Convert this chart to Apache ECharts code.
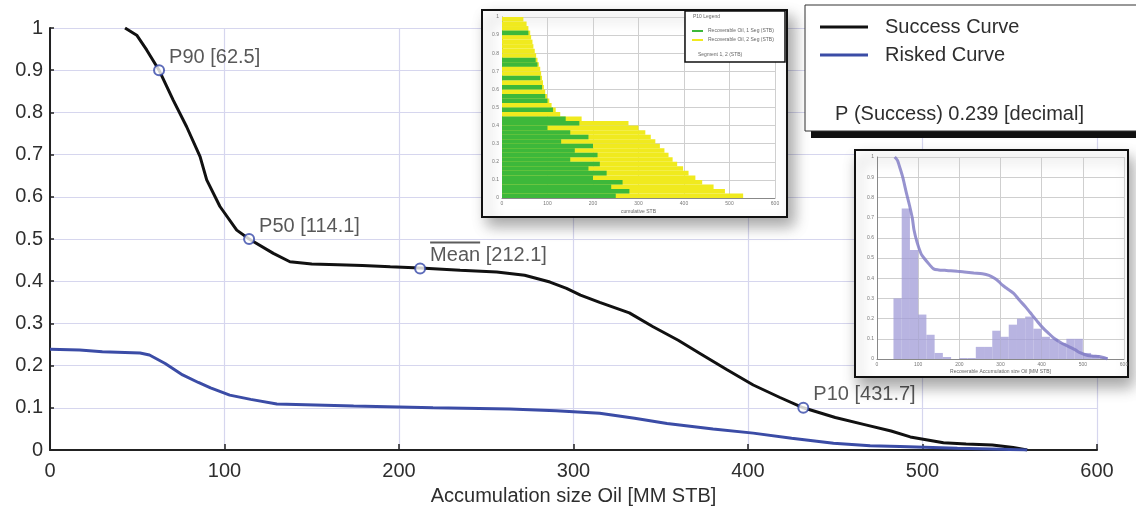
<!DOCTYPE html>
<html><head><meta charset="utf-8">
<script src="https://cdn.jsdelivr.net/npm/echarts@6/dist/echarts.min.js"></script>
<style>html,body{margin:0;padding:0;background:#fff}#c{width:1136px;height:511px}</style>
</head><body><div id="c"></div>
<script>
// ---------- main chart data ----------
const successX = [43, 49.7, 55.4, 62.5, 70.6, 78.3, 86, 89.8, 97.4, 107, 114.1, 128, 137.5, 150, 165, 179, 195, 212.1, 235, 256, 272, 286.5, 296, 304, 315, 332, 345.6, 360, 372, 388, 403, 418, 431.7, 450, 468, 482, 493, 512, 525, 540, 552, 560];
const successP = [1.0, 0.983, 0.948, 0.9, 0.829, 0.766, 0.695, 0.64, 0.577, 0.521, 0.5, 0.466, 0.446, 0.441, 0.439, 0.437, 0.434, 0.431, 0.426, 0.422, 0.414, 0.398, 0.383, 0.367, 0.35, 0.325, 0.292, 0.26, 0.23, 0.19, 0.154, 0.125, 0.1, 0.077, 0.059, 0.045, 0.031, 0.017, 0.014, 0.012, 0.006, 0];
const riskX = [0, 17, 30, 51.6, 57, 66, 76, 85, 92, 103, 115, 130, 174, 219.5, 263.6, 290, 315, 335, 353.6, 380, 403, 425, 449, 470, 487, 520, 545, 560];
const riskP = [0.239, 0.237, 0.233, 0.23, 0.225, 0.205, 0.178, 0.16, 0.147, 0.13, 0.12, 0.109, 0.104, 0.1, 0.097, 0.093, 0.087, 0.075, 0.063, 0.05, 0.04, 0.028, 0.016, 0.01, 0.008, 0.004, 0.002, 0];
const markerNames = ['P90', 'P50', 'Mean', 'P10'];
const markerX = [62.5, 114.1, 212.1, 431.7];
const markerP = [0.9, 0.5, 0.43, 0.1];
const seriesNames = ['Success Curve', 'Risked Curve'];
const pSuccessText = 'P (Success) 0.239 [decimal]';
const xAxisName = 'Accumulation size Oil [MM STB]';

// ---------- inset 1 (horizontal bars) ----------
const inset1Rows = ['0.0125','0.0375','0.0625','0.0875','0.1125','0.1375','0.1625','0.1875','0.2125','0.2375','0.2625','0.2875','0.3125','0.3375','0.3625','0.3875','0.4125','0.4375','0.4625','0.4875','0.5125','0.5375','0.5625','0.5875','0.6125','0.6375','0.6625','0.6875','0.7125','0.7375','0.7625','0.7875','0.8125','0.8375','0.8625','0.8875','0.9125','0.9375','0.9625','0.9875'];
const inset1Yellow = [530, 490, 465, 440, 425, 410, 398, 385, 375, 366, 357, 347, 337, 327, 315, 300, 278, 175, 128, 118, 109, 104, 99, 95, 92, 90, 88, 86, 84, 81, 78, 75, 72, 69, 67, 64, 62, 58, 54, 47];
const inset1Green = [250, 280, 240, 265, 200, 230, 190, 215, 150, 210, 160, 200, 130, 190, 150, 100, 170, 140, 0, 112, 0, 100, 95, 0, 88, 0, 84, 0, 0, 78, 74, 0, 0, 0, 0, 0, 58, 0, 0, 0];
const inset1LegendTitle = 'P10 Legend';
const inset1LegendItems = ['Recoverable Oil, 1 Seg (STB)', 'Recoverable Oil, 2 Seg (STB)'];
const inset1LegendFoot = 'Segment 1, 2 (STB)';
const inset1XName = 'cumulative STB';

// ---------- inset 2 (histogram) ----------
const histBins = ['0','20','40','60','80','100','120','140','160','180','200','220','240','260','280','300','320','340','360','380','400','420','440','460','480','500','520','540','560','580'];
const histHeight = [0, 0, 0.30, 0.745, 0.54, 0.22, 0.12, 0.03, 0.01, 0, 0.005, 0.005, 0.06, 0.06, 0.14, 0.11, 0.17, 0.20, 0.21, 0.15, 0.11, 0.10, 0.08, 0.10, 0.10, 0.03, 0.02, 0.01, 0, 0];
const inset2XName = 'Recoverable Accumulation size Oil [MM STB]';

const FONT = '"Liberation Sans", Arial, sans-serif';
const TXT = '#2e2e2e';

const chart = echarts.init(document.getElementById('c'), null, {renderer: 'canvas'});

const smallAxis = (gi, extra) => Object.assign({
  gridIndex: gi, type: 'value', z: 15,
  axisLine: {show: true, lineStyle: {color: '#888', width: 1}},
  axisTick: {show: false},
  axisLabel: {fontSize: 5, color: '#777', margin: 3, fontFamily: FONT},
  splitLine: {show: true, lineStyle: {color: '#cfcfcf', width: 1}}
}, extra);

const option = {
  animation: false,
  backgroundColor: '#fff',
  grid: [
    {left: 50, right: 39, top: 28, bottom: 61},
    {left: 502, width: 273, top: 17, height: 181, z: 15},
    {left: 877, width: 247, top: 157, height: 202, z: 15}
  ],
  legend: {
    data: seriesNames.map(n => ({name: n, icon: 'rect'})),
    orient: 'vertical', left: 820, top: 17, itemWidth: 48, itemHeight: 3, itemGap: 8,
    padding: 0, z: 15, selectedMode: false,
    textStyle: {fontSize: 20, color: TXT, fontFamily: FONT, lineHeight: 20, padding: [0, 0, 0, 12]}
  },
  xAxis: [
    {gridIndex: 0, type: 'value', min: 0, max: 600, interval: 100,
      name: xAxisName, nameLocation: 'middle', nameGap: 36,
      nameTextStyle: {fontSize: 20, color: TXT, fontFamily: FONT},
      axisLine: {lineStyle: {color: '#222', width: 2}},
      axisTick: {inside: true, length: 6, lineStyle: {color: '#222', width: 1.5}},
      axisLabel: {fontSize: 20, color: TXT, fontFamily: FONT, margin: 11},
      splitLine: {show: true, lineStyle: {color: '#d6d6ee', width: 1.2}}},
    smallAxis(1, {min: 0, max: 600, interval: 100, name: inset1XName, nameLocation: 'middle', nameGap: 11,
      nameTextStyle: {fontSize: 5, color: '#666', fontFamily: FONT}}),
    smallAxis(2, {min: 0, max: 600, interval: 100, name: inset2XName, nameLocation: 'middle', nameGap: 10,
      nameTextStyle: {fontSize: 5, color: '#666', fontFamily: FONT}}),
    {gridIndex: 2, type: 'category', data: histBins, show: false, boundaryGap: true}
  ],
  yAxis: [
    {gridIndex: 0, type: 'value', min: 0, max: 1, interval: 0.1,
      axisLine: {show: true, lineStyle: {color: '#222', width: 2}},
      axisTick: {show: true, inside: true, length: 4, lineStyle: {color: '#222', width: 1.5}},
      axisLabel: {fontSize: 20, color: TXT, fontFamily: FONT, margin: 7},
      splitLine: {show: true, lineStyle: {color: '#d6d6ee', width: 1.2}}},
    {gridIndex: 1, type: 'category', data: inset1Rows, show: false, boundaryGap: true, position: 'left'},
    smallAxis(1, {min: 0, max: 1, interval: 0.1, position: 'left'}),
    smallAxis(2, {min: 0, max: 1, interval: 0.1, position: 'left'})
  ],
  graphic: [
    // main legend box
    {type: 'rect', z: 8, shape: {x: 811, y: 10, width: 330, height: 128}, style: {fill: '#111'}},
    {type: 'rect', z: 9, shape: {x: 805, y: 5, width: 335, height: 126}, style: {fill: '#fff', stroke: '#333', lineWidth: 1}},
    {type: 'text', z: 16, left: 835, top: 104, style: {text: pSuccessText, fontSize: 20, fill: TXT, fontFamily: FONT}},
    // inset 1 frame
    {type: 'rect', z: 10, shape: {x: 482, y: 10, width: 305, height: 207},
      style: {fill: '#fff', stroke: '#111', lineWidth: 2, shadowBlur: 14, shadowOffsetX: 6, shadowOffsetY: 8, shadowColor: 'rgba(0,0,0,0.35)'}},
    // inset 1 legend
    {type: 'rect', z: 25, shape: {x: 685, y: 11, width: 100, height: 51}, style: {fill: '#fff', stroke: '#111', lineWidth: 1.5}},
    {type: 'text', z: 26, left: 693, top: 14, style: {text: inset1LegendTitle, fontSize: 5, fill: '#666', fontFamily: FONT}},
    {type: 'line', z: 26, shape: {x1: 692, y1: 31, x2: 703, y2: 31}, style: {stroke: '#3db83a', lineWidth: 2}},
    {type: 'line', z: 26, shape: {x1: 692, y1: 40, x2: 703, y2: 40}, style: {stroke: '#f0ea1e', lineWidth: 2}},
    {type: 'text', z: 26, left: 708, top: 28, style: {text: inset1LegendItems[0], fontSize: 5, fill: '#666', fontFamily: FONT}},
    {type: 'text', z: 26, left: 708, top: 37, style: {text: inset1LegendItems[1], fontSize: 5, fill: '#666', fontFamily: FONT}},
    {type: 'text', z: 26, left: 698, top: 52, style: {text: inset1LegendFoot, fontSize: 5, fill: '#666', fontFamily: FONT}},
    // inset 2 frame
    {type: 'rect', z: 10, shape: {x: 855, y: 150, width: 273, height: 227},
      style: {fill: '#fff', stroke: '#111', lineWidth: 2, shadowBlur: 14, shadowOffsetX: 4, shadowOffsetY: 9, shadowColor: 'rgba(0,0,0,0.35)'}}
  ],
  series: [
    {name: seriesNames[0], type: 'line', xAxisIndex: 0, yAxisIndex: 0, showSymbol: false, z: 3,
      lineStyle: {color: '#111', width: 3}, itemStyle: {color: '#111'},
      data: successX.map((x, i) => [x, successP[i]])},
    {name: seriesNames[1], type: 'line', xAxisIndex: 0, yAxisIndex: 0, showSymbol: false, z: 3,
      lineStyle: {color: '#3b4ca6', width: 3}, itemStyle: {color: '#3b4ca6'},
      data: riskX.map((x, i) => [x, riskP[i]])},
    {name: 'markers', type: 'scatter', xAxisIndex: 0, yAxisIndex: 0, z: 5,
      symbol: 'emptyCircle', symbolSize: 10,
      itemStyle: {color: '#3346a8', borderWidth: 2.2},
      label: {show: true, position: 'right', distance: 4, color: TXT, fontSize: 20, fontFamily: FONT,
        formatter: p => p.name === 'Mean' ? '{ov|}\n{t|' + p.name + ' [' + p.value[0] + ']}' : '{t|' + p.name + ' [' + p.value[0] + ']}',
        rich: {
          t: {fontSize: 20, lineHeight: 22, color: TXT, fontFamily: FONT},
          ov: {width: 50, height: 2, lineHeight: 4, backgroundColor: '#333'}
        }},
      labelLayout: p => ({dy: markerNames[p.dataIndex] === 'Mean' ? -15 : -13}),
      data: markerX.map((x, i) => ({name: markerNames[i], value: [x, markerP[i]]}))},
    // inset 1 bars
    {name: 'inset1Yellow', type: 'bar', xAxisIndex: 1, yAxisIndex: 1, z: 20, barCategoryGap: '0%', barGap: '-100%',
      itemStyle: {color: '#f0ea1e'}, data: inset1Yellow},
    {name: 'inset1Green', type: 'bar', xAxisIndex: 1, yAxisIndex: 1, z: 21, barCategoryGap: '0%', barGap: '-100%',
      itemStyle: {color: '#3db83a'}, data: inset1Green},
    // inset 2 histogram + curve
    {name: 'inset2Hist', type: 'bar', xAxisIndex: 3, yAxisIndex: 3, z: 20, barCategoryGap: '0%',
      itemStyle: {color: 'rgba(160,155,215,0.75)'}, data: histHeight},
    {name: 'inset2Curve', type: 'line', xAxisIndex: 2, yAxisIndex: 3, z: 22, showSymbol: false, smooth: 0.3,
      lineStyle: {color: 'rgba(125,120,195,0.8)', width: 3},
      data: successX.map((x, i) => [x, successP[i]])}
  ]
};
chart.setOption(option);
</script>
</body></html>
